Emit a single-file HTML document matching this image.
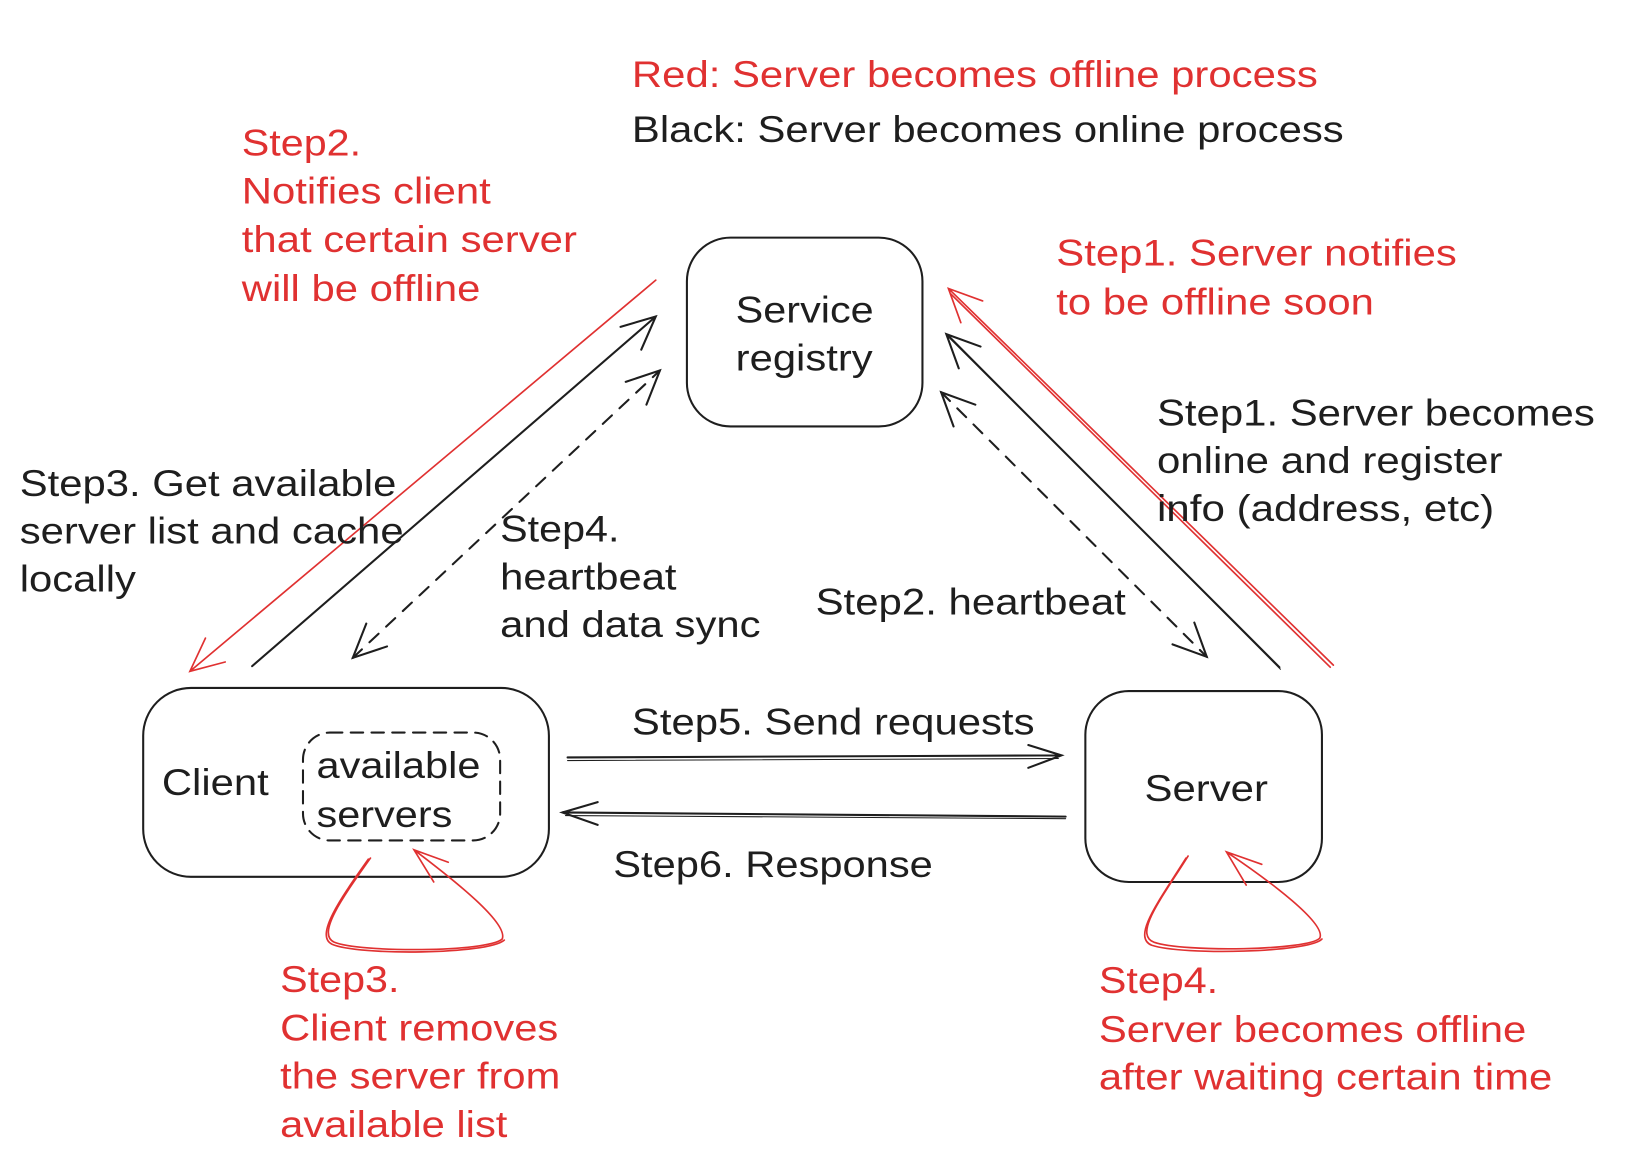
<!DOCTYPE html>
<html><head><meta charset="utf-8"><style>
html,body{margin:0;padding:0;background:#fff;}
svg{display:block;}
text{font-family:"Liberation Sans",Arial,sans-serif;font-size:36px;}
.r{fill:#e03131;} .b{fill:#1e1e1e;}
</style></head><body>
<svg width="1627" height="1175" viewBox="0 0 1568 1132.4" preserveAspectRatio="none" xmlns="http://www.w3.org/2000/svg">
<rect x="0" y="0" width="1568" height="1133" fill="#fff"/>
<g fill="none" stroke="#1e1e1e" stroke-width="2" stroke-linecap="round">
<rect x="662" y="229" width="227" height="182" rx="42"/>
<rect x="138" y="663" width="391" height="182" rx="46"/>
<rect x="292" y="706" width="190" height="104" rx="26" stroke-dasharray="12 8"/>
<rect x="1046" y="666" width="228" height="184" rx="42"/>
<path d="M243,642 L632,305 M598,315 L632,305 L618,337"/>
<path d="M340,634 L636,357" stroke-dasharray="12 10"/>
<path d="M603,368 L636,357 L623,390 M373,623 L340,634 L353,601"/>
<path d="M907,378 L1163,633" stroke-dasharray="12 10"/>
<path d="M1151,600 L1163,633 L1130,621 M919,411 L907,378 L940,390"/>
<path d="M1233,643 L912,322 M924,355 L912,322 L945,334"/>
<path d="M1234,645 L914,323" stroke-width="1"/>
<path d="M547,730 L1023,728 M991,718 L1023,728 L991,740"/>
<path d="M547,733 L1020,731" stroke-width="1"/>
<path d="M1027,787 L542,783 M576,773 L542,783 L576,795"/>
<path d="M1027,789 L545,786" stroke-width="1"/>
</g>
<g fill="none" stroke="#e03131" stroke-width="1.6" stroke-linecap="round">
<path d="M632,270 L183,647 M217,638 L183,647 L198,615"/>
<path d="M1285,641 L914,278 M926,311 L914,278 L947,290"/>
<path d="M1282,643 L916,283"/>
<path d="M357,827 C330,865 305,900 322,908 C345,918 470,918 484,905 C490,890 440,850 399,819 M432,831 L399,819 L418,850"/>
<path d="M355,828 C328,866 303,902 320,910 C345,921 470,920 486,906"/>
<path d="M1145,825 C1120,865 1092,900 1112,908 C1140,918 1262,916 1272,904 C1278,890 1225,850 1182,821 M1216,833 L1182,821 L1201,853"/>
<path d="M1143,827 C1118,867 1090,903 1110,911 C1140,921 1262,918 1274,905"/>
</g>
<text class="r" x="609" y="84" textLength="661" lengthAdjust="spacingAndGlyphs">Red: Server becomes offline process</text>
<text class="b" x="609" y="137" textLength="686" lengthAdjust="spacingAndGlyphs">Black: Server becomes online process</text>
<text class="r" x="233" y="150" textLength="115" lengthAdjust="spacingAndGlyphs">Step2.</text>
<text class="r" x="233" y="196" textLength="240" lengthAdjust="spacingAndGlyphs">Notifies client</text>
<text class="r" x="233" y="243" textLength="323" lengthAdjust="spacingAndGlyphs">that certain server</text>
<text class="r" x="233" y="290" textLength="230" lengthAdjust="spacingAndGlyphs">will be offline</text>
<text class="r" x="1018" y="256" textLength="386" lengthAdjust="spacingAndGlyphs">Step1. Server notifies</text>
<text class="r" x="1018" y="303" textLength="306" lengthAdjust="spacingAndGlyphs">to be offline soon</text>
<text class="b" x="1115" y="410" textLength="422" lengthAdjust="spacingAndGlyphs">Step1. Server becomes</text>
<text class="b" x="1115" y="456" textLength="333" lengthAdjust="spacingAndGlyphs">online and register</text>
<text class="b" x="1115" y="502" textLength="325" lengthAdjust="spacingAndGlyphs">info (address, etc)</text>
<text class="b" x="19" y="478" textLength="363" lengthAdjust="spacingAndGlyphs">Step3. Get available</text>
<text class="b" x="19" y="524" textLength="370" lengthAdjust="spacingAndGlyphs">server list and cache</text>
<text class="b" x="19" y="570" textLength="112" lengthAdjust="spacingAndGlyphs">locally</text>
<text class="b" x="482" y="522" textLength="115" lengthAdjust="spacingAndGlyphs">Step4.</text>
<text class="b" x="482" y="568" textLength="170" lengthAdjust="spacingAndGlyphs">heartbeat</text>
<text class="b" x="482" y="614" textLength="251" lengthAdjust="spacingAndGlyphs">and data sync</text>
<text class="b" x="786" y="592" textLength="299" lengthAdjust="spacingAndGlyphs">Step2. heartbeat</text>
<text class="b" x="609" y="708" textLength="388" lengthAdjust="spacingAndGlyphs">Step5. Send requests</text>
<text class="b" x="591" y="845" textLength="308" lengthAdjust="spacingAndGlyphs">Step6. Response</text>
<text class="b" x="156" y="766" textLength="103" lengthAdjust="spacingAndGlyphs">Client</text>
<text class="b" x="305" y="750" textLength="158" lengthAdjust="spacingAndGlyphs">available</text>
<text class="b" x="305" y="797" textLength="131" lengthAdjust="spacingAndGlyphs">servers</text>
<text class="b" x="1103" y="772" textLength="119" lengthAdjust="spacingAndGlyphs">Server</text>
<text class="b" x="709" y="311" textLength="133" lengthAdjust="spacingAndGlyphs">Service</text>
<text class="b" x="709" y="357" textLength="132" lengthAdjust="spacingAndGlyphs">registry</text>
<text class="r" x="270" y="956" textLength="115" lengthAdjust="spacingAndGlyphs">Step3.</text>
<text class="r" x="270" y="1003" textLength="268" lengthAdjust="spacingAndGlyphs">Client removes</text>
<text class="r" x="270" y="1049" textLength="270" lengthAdjust="spacingAndGlyphs">the server from</text>
<text class="r" x="270" y="1096" textLength="219" lengthAdjust="spacingAndGlyphs">available list</text>
<text class="r" x="1059" y="957" textLength="115" lengthAdjust="spacingAndGlyphs">Step4.</text>
<text class="r" x="1059" y="1004" textLength="412" lengthAdjust="spacingAndGlyphs">Server becomes offline</text>
<text class="r" x="1059" y="1050" textLength="437" lengthAdjust="spacingAndGlyphs">after waiting certain time</text>
</svg>
</body></html>
